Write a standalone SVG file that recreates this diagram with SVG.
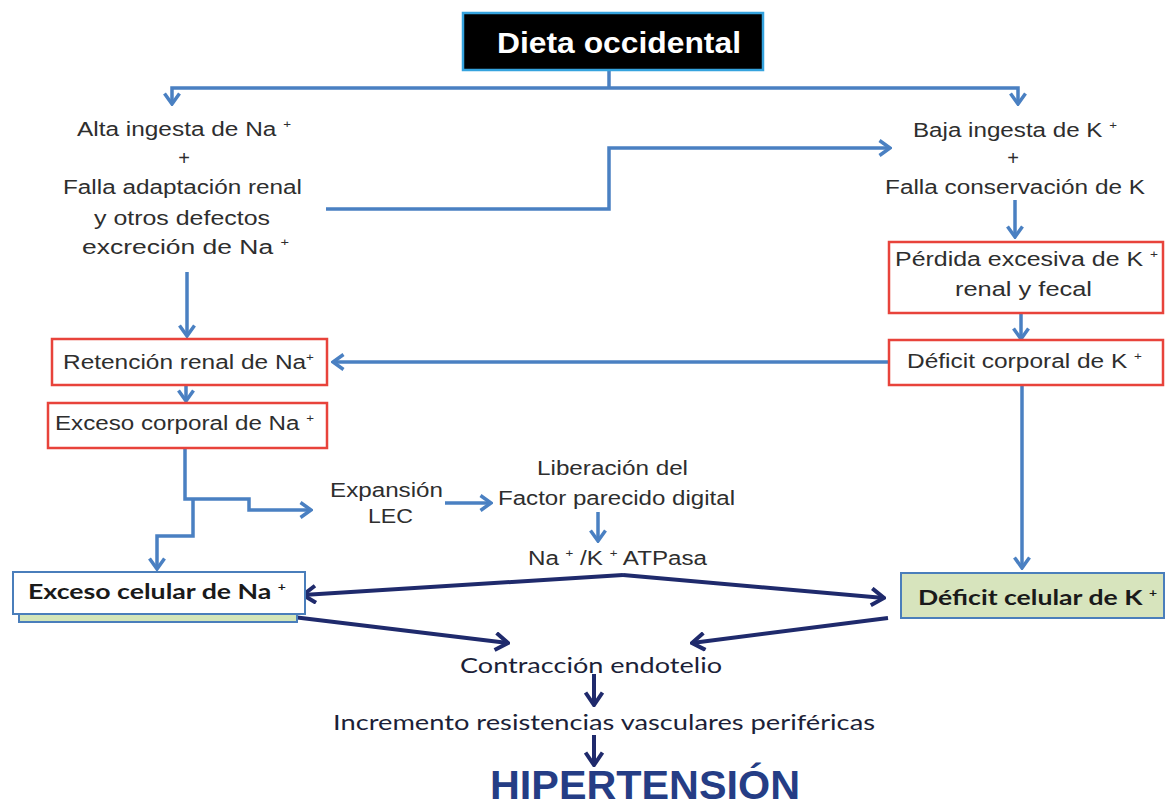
<svg xmlns="http://www.w3.org/2000/svg" width="1166" height="808" viewBox="0 0 1166 808">
<style>
.t{font-family:"Liberation Sans",Arial,sans-serif;font-size:20px;fill:#2e2e2e}
.c{font-family:Lato,"Liberation Sans",sans-serif;font-size:21px;fill:#1c1f38}
.cb{font-family:Lato,"Liberation Sans",sans-serif;font-size:21px;font-weight:bold;fill:#1a1a1a}
.sup{font-size:11px}
.rb{fill:#fff;stroke:#e8433b;stroke-width:2.5}
.bb{stroke:#4a7ebb;stroke-width:2}
.bl{fill:none;stroke:#4a80c2;stroke-width:3.5;stroke-linejoin:miter}
.nv{fill:none;stroke:#1f2a6c;stroke-width:4}
</style>
<defs>
<marker id="ab" viewBox="0 0 14 18" refX="12" refY="9" markerWidth="14" markerHeight="18" markerUnits="userSpaceOnUse" orient="auto">
<path d="M1.5,1.5 L12,9 L1.5,16.5" fill="none" stroke="#4a80c2" stroke-width="3.5"/>
</marker>
<marker id="an" viewBox="0 0 16 20" refX="14" refY="10" markerWidth="16" markerHeight="20" markerUnits="userSpaceOnUse" orient="auto">
<path d="M1.5,1.5 L14,10 L1.5,18.5" fill="none" stroke="#1f2a6c" stroke-width="4"/>
</marker>
</defs>
<rect width="1166" height="808" fill="#fff"/>

<g id="connectors">
<path class="bl" d="M609,70 V88"/>
<path class="bl" d="M609,88 H172 V104" marker-end="url(#ab)"/>
<path class="bl" d="M609,88 H1018 V104" marker-end="url(#ab)"/>
<path class="bl" d="M326,209 H609 V148 H890" marker-end="url(#ab)"/>
<path class="bl" d="M187,272 V336" marker-end="url(#ab)"/>
<path class="bl" d="M186,385 V401" marker-end="url(#ab)"/>
<path class="bl" d="M1015,200 V237" marker-end="url(#ab)"/>
<path class="bl" d="M1021,313 V339" marker-end="url(#ab)"/>
<path class="bl" d="M889,362 H333" marker-end="url(#ab)"/>
<path class="bl" d="M1022,385 V568" marker-end="url(#ab)"/>
<path class="bl" d="M185,448 V499 H249 V510 H311" marker-end="url(#ab)"/>
<path class="bl" d="M193,499 V536 H157 V569" marker-end="url(#ab)"/>
<path class="bl" d="M445,503 H491" marker-end="url(#ab)"/>
<path class="bl" d="M598,512 V541" marker-end="url(#ab)"/>
<path class="nv" d="M623,575 L303,595" marker-end="url(#an)"/>
<path class="nv" d="M623,575 L884,598" marker-end="url(#an)"/>
<path class="nv" d="M293,617 L508,643" marker-end="url(#an)"/>
<path class="nv" d="M888,618 L692,643" marker-end="url(#an)"/>
<path class="nv" d="M594,674 V705" marker-end="url(#an)"/>
<path class="nv" d="M594,735 V765" marker-end="url(#an)"/>
</g>

<g id="n-dieta">
<rect x="463" y="13" width="300" height="57" fill="#000" stroke="#35a3de" stroke-width="2.5"/>
<text x="497" y="53" font-family="'Liberation Sans',Arial,sans-serif" font-size="29" font-weight="bold" fill="#fff" textLength="244" lengthAdjust="spacingAndGlyphs">Dieta occidental</text>
</g>

<g id="n-alta">
<text class="t" x="77" y="136" textLength="214" lengthAdjust="spacingAndGlyphs">Alta ingesta de Na <tspan class="sup" dy="-8">+</tspan></text>
<text class="t" x="184" y="165" text-anchor="middle">+</text>
<text class="t" x="63" y="194" textLength="239" lengthAdjust="spacingAndGlyphs">Falla adaptación renal</text>
<text class="t" x="94" y="225" textLength="176" lengthAdjust="spacingAndGlyphs">y otros defectos</text>
<text class="t" x="82" y="254" textLength="207" lengthAdjust="spacingAndGlyphs">excreción de Na <tspan class="sup" dy="-8">+</tspan></text>
</g>

<g id="n-baja">
<text class="t" x="913" y="137" textLength="204" lengthAdjust="spacingAndGlyphs">Baja ingesta de K <tspan class="sup" dy="-8">+</tspan></text>
<text class="t" x="1013" y="165" text-anchor="middle">+</text>
<text class="t" x="885" y="194" textLength="260" lengthAdjust="spacingAndGlyphs">Falla conservación de K</text>
</g>

<g id="n-perdida">
<rect class="rb" x="889" y="242" width="274" height="71"/>
<text class="t" x="895" y="266" textLength="263" lengthAdjust="spacingAndGlyphs">Pérdida  excesiva de K <tspan class="sup" dy="-8">+</tspan></text>
<text class="t" x="955" y="296" textLength="137" lengthAdjust="spacingAndGlyphs">renal y fecal</text>
</g>

<g id="n-deficit-corporal">
<rect class="rb" x="889" y="340" width="274" height="45"/>
<text class="t" x="907" y="368" textLength="235" lengthAdjust="spacingAndGlyphs">Déficit corporal de K <tspan class="sup" dy="-8">+</tspan></text>
</g>

<g id="n-retencion">
<rect class="rb" x="52" y="339" width="275" height="46"/>
<text class="t" x="63" y="369" textLength="251" lengthAdjust="spacingAndGlyphs">Retención renal de Na<tspan class="sup" dy="-8">+</tspan></text>
</g>

<g id="n-exceso-corporal">
<rect class="rb" x="48" y="403" width="279" height="45"/>
<text class="t" x="55" y="430" textLength="259" lengthAdjust="spacingAndGlyphs">Exceso corporal de Na <tspan class="sup" dy="-8">+</tspan></text>
</g>

<g id="n-expansion">
<text class="t" x="330" y="497" textLength="113" lengthAdjust="spacingAndGlyphs">Expansión</text>
<text class="t" x="368" y="523" textLength="45" lengthAdjust="spacingAndGlyphs">LEC</text>
</g>

<g id="n-liberacion">
<text class="t" x="537" y="475" textLength="151" lengthAdjust="spacingAndGlyphs">Liberación  del</text>
<text class="t" x="498" y="505" textLength="237" lengthAdjust="spacingAndGlyphs">Factor parecido  digital</text>
</g>

<g id="n-atpasa">
<text class="t" x="528" y="565" textLength="179" lengthAdjust="spacingAndGlyphs">Na <tspan class="sup" dy="-8">+</tspan><tspan dy="8"> /K </tspan><tspan class="sup" dy="-8">+</tspan><tspan dy="8"> ATPasa</tspan></text>
</g>

<g id="n-exceso-celular">
<rect x="19" y="580" width="278" height="42" fill="#d3e5b9" class="bb"/>
<rect x="13" y="572" width="292" height="42" fill="#fff" class="bb"/>
<text class="cb" x="28" y="599" textLength="258" lengthAdjust="spacingAndGlyphs">Exceso celular de Na <tspan class="sup" dy="-8">+</tspan></text>
</g>

<g id="n-deficit-celular">
<rect x="901" y="573" width="263" height="45" fill="#d7e4bd" class="bb"/>
<text class="cb" x="918" y="605" textLength="239" lengthAdjust="spacingAndGlyphs">Déficit celular de K <tspan class="sup" dy="-8">+</tspan></text>
</g>

<g id="n-contraccion">
<text class="c" x="460" y="673" textLength="262" lengthAdjust="spacingAndGlyphs">Contracción endotelio</text>
</g>

<g id="n-incremento">
<text class="c" x="333" y="730" textLength="542" lengthAdjust="spacingAndGlyphs">Incremento resistencias vasculares periféricas</text>
</g>

<g id="n-hipertension">
<text x="490" y="799" font-family="'Liberation Sans',Arial,sans-serif" font-size="41" font-weight="bold" fill="#253d85" textLength="310" lengthAdjust="spacingAndGlyphs">HIPERTENSIÓN</text>
</g>
</svg>
